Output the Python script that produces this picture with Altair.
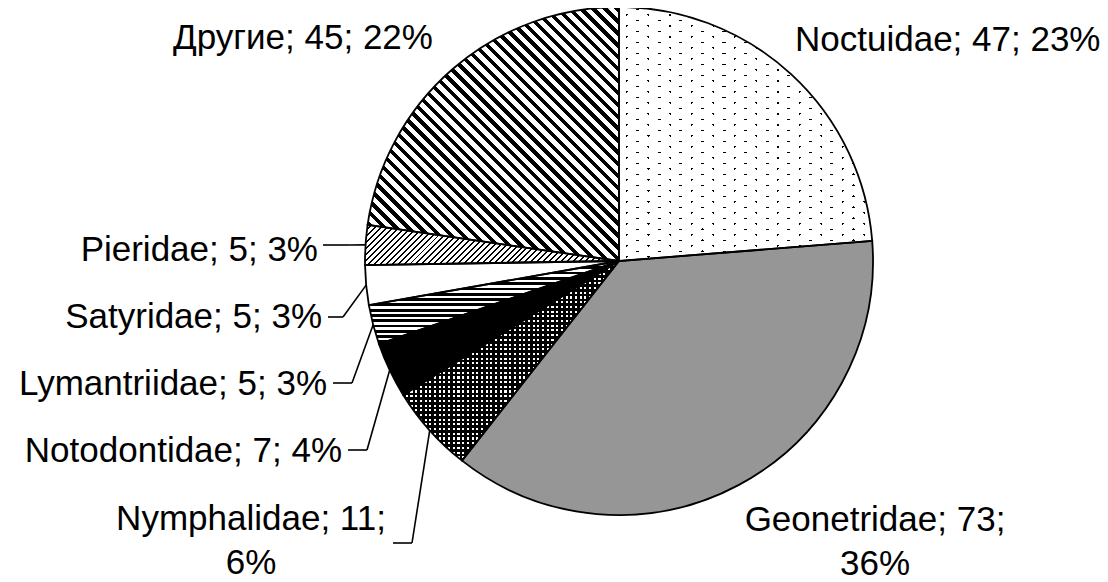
import math
import altair as alt
import pandas as pd

# ---------------- data ----------------
categories = ["Noctuidae", "Geonetridae", "Nymphalidae", "Notodontidae",
              "Lymantriidae", "Satyridae", "Pieridae", "Другие"]
counts = [47, 73, 11, 7, 5, 5, 5, 45]
percents = [23, 36, 6, 4, 3, 3, 3, 22]

# ---------------- layout (pixels) ----------------
CX, CY, R = 611, 253, 254
FONT = "Liberation Sans"
FS = 35
label_x = [787, 867, 243, 334, 319, 314, 310, 165]
label_y = [43, 523, 522, 454, 387, 320, 253, 41]
label_align = ["left", "center", "center", "right", "right", "right", "right", "left"]
label_wrap = [False, True, True, False, False, False, False, False]
leader_end_x = [None, None, 385, 340, 325, 320, 315, None]
leader_end_y = [None, None, 535, 442, 375, 309, 237, None]
leader_elbow_x = [None, None, 404, 359, 344, 335, 340, None]

total = sum(counts)


def label_text(c, n, p, wrap):
    return f"{c}; {n};\n{p}%" if wrap else f"{c}; {n}; {p}%"


df = pd.DataFrame({
    "order": list(range(len(categories))),
    "category": categories,
    "count": counts,
    "label": [label_text(c, n, p, w) for c, n, p, w in zip(categories, counts, percents, label_wrap)],
    "lx": label_x,
    "ly": label_y,
    "al": label_align,
    "lex": leader_end_x,
    "ley": leader_end_y,
    "lbx": leader_elbow_x,
})


# ---------------- pattern helpers (styling only) ----------------
def wedge_bbox(i):
    c0 = sum(counts[:i])
    a0 = c0 / total * 2 * math.pi
    a1 = (c0 + counts[i]) / total * 2 * math.pi
    pts = [(0.0, 0.0)]
    angs = [a0, a1] + [k * math.pi / 2 for k in range(5) if a0 < k * math.pi / 2 < a1]
    for a in angs:
        pts.append((R * math.sin(a), -R * math.cos(a)))
    xs = [p[0] for p in pts]
    ys = [p[1] for p in pts]
    return max(xs) - min(xs), max(ys) - min(ys)


def stripes(i, normal_deg, period, on_w, on_color, off_color, phase=0.0):
    bw, bh = wedge_bbox(i)
    a = math.radians(normal_deg)
    gx, gy = math.cos(a), math.sin(a)
    corners = [(0, 0), (1, 0), (0, 1), (1, 1)]
    vals = [u * bw * gx + v * bh * gy for u, v in corners]
    i0 = min(range(4), key=lambda k: vals[k])
    m0, m1 = vals[i0], max(vals)
    L = m1 - m0
    wx, wy = bw * gx, bh * gy
    c = L / (wx * wx + wy * wy)
    x1, y1 = corners[i0]
    x2, y2 = x1 + c * wx, y1 + c * wy
    segs = []
    pos = (-phase % period) - period
    while pos < L:
        segs.append((pos, pos + on_w, on_color))
        segs.append((pos + on_w, pos + period, off_color))
        pos += period
    stops = []
    for s0, s1, col in segs:
        s0c, s1c = max(s0, 0.0), min(s1, L)
        if s1c <= s0c:
            continue
        stops.append({"offset": round(s0c / L, 5), "color": col})
        stops.append({"offset": round(s1c / L, 5), "color": col})
    return {"gradient": "linear", "x1": round(x1, 5), "y1": round(y1, 5),
            "x2": round(x2, 5), "y2": round(y2, 5), "stops": stops}


BLACK = "#000000"
WHITE = "#ffffff"
CLEAR = "rgba(255,255,255,0)"

idx = {c: i for i, c in enumerate(categories)}
base_fill = {
    "Noctuidae": stripes(idx["Noctuidae"], 117, 9.8, 1.6, BLACK, WHITE),
    "Geonetridae": "#969696",
    "Nymphalidae": stripes(idx["Nymphalidae"], 0, 4.7, 2.6, BLACK, WHITE),
    "Notodontidae": BLACK,
    "Lymantriidae": stripes(idx["Lymantriidae"], 90, 5.3, 2.9, BLACK, WHITE),
    "Satyridae": WHITE,
    "Pieridae": stripes(idx["Pieridae"], 45, 4.2, 1.4, BLACK, WHITE),
    "Другие": stripes(idx["Другие"], -45, 8.4, 3.8, BLACK, WHITE),
}
overlay_fill = {
    "Noctuidae": stripes(idx["Noctuidae"], 63, 9.8, 1.6, CLEAR, WHITE),
    "Nymphalidae": stripes(idx["Nymphalidae"], 90, 4.7, 2.6, BLACK, CLEAR),
}

# ---------------- chart ----------------
theta_scale = alt.Scale(domain=[0, total], range=[0, 2 * math.pi])

base = alt.Chart(df).transform_window(
    cum="sum(count)", sort=[alt.SortField("order")], frame=[None, 0]
).transform_calculate(
    start="datum.cum - datum.count",
    mid="(datum.cum - datum.count / 2) / %d * 2 * PI" % total,
)

arc_enc = dict(
    theta=alt.Theta("start:Q", scale=theta_scale),
    theta2=alt.Theta2("cum:Q"),
    x=alt.value(CX),
    y=alt.value(CY),
)

layers = []
for cat in categories:
    layers.append(
        base.transform_filter(alt.datum.category == cat)
        .mark_arc(radius=R, fill=base_fill[cat], stroke=None)
        .encode(**arc_enc)
    )
for cat, fill in overlay_fill.items():
    layers.append(
        base.transform_filter(alt.datum.category == cat)
        .mark_arc(radius=R, fill=fill, stroke=None)
        .encode(**arc_enc)
    )

outline = base.mark_arc(radius=R, fill=WHITE, fillOpacity=0, stroke=BLACK,
                        strokeWidth=1.8).encode(**arc_enc)
layers.append(outline)

leaders = base.transform_filter("isValid(datum.lex)").transform_calculate(
    ex="%f + %f * sin(datum.mid)" % (CX, R),
    ey="%f - %f * cos(datum.mid)" % (CY, R),
)
rule1 = leaders.mark_rule(color=BLACK, strokeWidth=1.6).encode(
    x=alt.X("ex:Q", scale=None), y=alt.Y("ey:Q", scale=None),
    x2="lbx:Q", y2="ley:Q",
)
rule2 = leaders.mark_rule(color=BLACK, strokeWidth=1.6).encode(
    x=alt.X("lbx:Q", scale=None), y=alt.Y("ley:Q", scale=None),
    x2="lex:Q", y2="ley:Q",
)
layers += [rule1, rule2]

for al in ["left", "center", "right"]:
    layers.append(
        alt.Chart(df).transform_filter(alt.datum.al == al)
        .mark_text(align=al, baseline="alphabetic", font=FONT, fontSize=FS,
                   color=BLACK, lineBreak="\n", lineHeight=44)
        .encode(x=alt.X("lx:Q", scale=None), y=alt.Y("ly:Q", scale=None),
                text="label:N")
    )

chart = alt.layer(*layers).properties(
    width=1092, height=574, padding=0, autosize="none"
).configure_view(stroke=None)

chart.save("out.html", embed_options={"renderer": "svg", "actions": False})
